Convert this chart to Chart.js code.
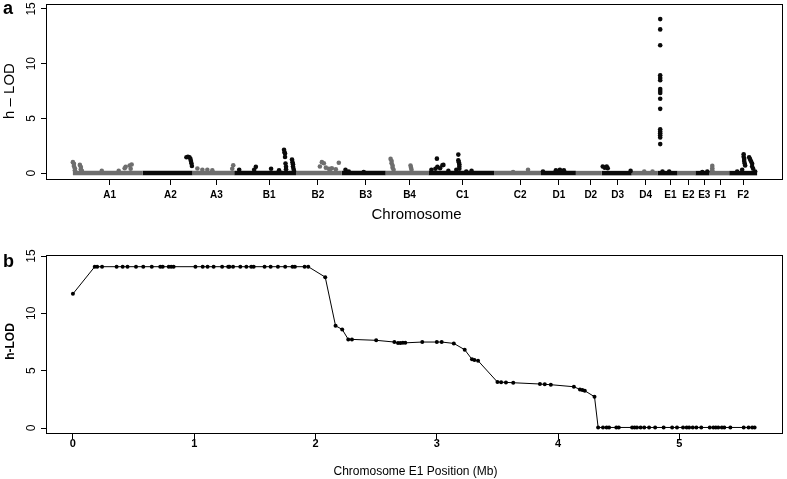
<!DOCTYPE html>
<html>
<head>
<meta charset="utf-8">
<script src="https://cdn.jsdelivr.net/npm/chart.js@4.4.1/dist/chart.umd.min.js"></script>
<style>
  html, body { margin: 0; padding: 0; background: #fff; }
  #wrap { position: relative; width: 787px; height: 479px; }
  .panel { position: absolute; left: 0; width: 787px; }
</style>
</head>
<body>
<div id="wrap">
  <div class="panel" style="top:0;height:230px"><canvas id="chart-a"></canvas></div>
  <div class="panel" style="top:230px;height:249px"><canvas id="chart-b"></canvas></div>
</div>
<script>
// ---- panel a: genome scan (cumulative map position, arbitrary units) ----
const chrNames = ['A1','A2','A3','B1','B2','B3','B4','C1','C2','D1','D2','D3','D4','E1','E2','E3','F1','F2'];
const chrStart = [27, 97, 147, 189, 251, 297, 341, 384, 450, 497, 532, 558, 588, 614, 634, 652, 666, 686];
const chrEnd   = [97, 147, 189, 251, 297, 341, 384, 450, 497, 532, 558, 588, 614, 634, 652, 666, 686, 714];
const chrMid   = [64, 125, 171, 224, 273, 321, 365, 418, 476, 515, 547, 574, 602, 627, 645, 661, 677, 700];

// markers above the baseline (h-LOD > 0)
const peakPos = [
  27, 28, 28, 29, 29, 34, 35, 35, 36, 56, 73, 79, 80, 84, 86, 85,
  141, 142.5, 144, 145, 145.5, 146, 146.5,
  152, 157, 162, 167, 188, 187,
  194, 210.7, 209, 226, 239, 239.5, 240, 240, 240.5, 241, 241, 247, 247.5, 248, 248, 248.5, 249, 234,
  275, 277, 279, 281, 284, 287, 291, 294, 285,
  300.7, 304, 319,
  346, 347, 347, 348, 348, 349, 366, 366.5, 367,
  387, 391, 392.5, 393, 395.7, 398, 399, 404, 412, 414, 414, 414.5, 415, 415, 415, 427.3, 422,
  484, 469,
  499, 512, 516, 520,
  559, 561, 563, 564, 587,
  600.7, 609,
  616.7, 616.7, 616.7, 616.7, 616.7, 616.7, 616.7, 616.7, 616.7, 616.7, 616.7, 616.7, 616.7, 616.7, 616.7, 616.7, 616.7, 619, 625.7,
  664, 659,
  669, 669, 669,
  694, 699, 700.5, 700.5, 701, 701, 701.5, 702, 706, 707, 708, 709, 709, 710, 712
];
const peakLod = [
  1.0, 0.85, 0.65, 0.45, 0.25, 0.75, 0.55, 0.35, 0.2, 0.2, 0.2, 0.45, 0.57, 0.7, 0.78, 0.4,
  1.45, 1.5, 1.45, 1.3, 1.1, 0.9, 0.65,
  0.42, 0.3, 0.3, 0.25, 0.72, 0.4,
  0.3, 0.57, 0.3, 0.4, 2.14, 1.9, 1.78, 1.47, 0.88, 0.57, 0.35, 1.24, 1.0, 0.8, 0.6, 0.4, 0.2, 0.25,
  0.6, 1.0, 0.9, 0.5, 0.4, 0.45, 0.35, 0.94, 0.3,
  0.3, 0.15, 0.1,
  1.3, 1.1, 0.9, 0.7, 0.5, 0.3, 0.7, 0.5, 0.3,
  0.3, 0.4, 1.32, 0.57, 0.45, 0.72, 0.75, 0.2, 0.3, 1.69, 1.17, 1.0, 0.8, 0.6, 0.4, 0.2, 0.15,
  0.3, 0.1,
  0.15, 0.25, 0.3, 0.25,
  0.6, 0.5, 0.6, 0.45, 0.2,
  0.15, 0.15,
  14.07, 13.13, 11.68, 8.94, 8.7, 8.49, 7.68, 7.5, 7.32, 6.8, 5.87, 4.0, 3.8, 3.64, 3.46, 3.25, 2.65, 0.15, 0.15,
  0.15, 0.1,
  0.66, 0.45, 0.25,
  0.15, 0.3, 1.72, 1.5, 1.3, 1.1, 0.9, 0.7, 1.45, 1.25, 1.05, 0.85, 0.6, 0.4, 0.15
];
const lodTicks = [0, 5, 10, 15];

// ---- panel b: chromosome E1 detail ----
const e1Pos = [
  0, 0.18, 0.20, 0.24, 0.36, 0.41, 0.45, 0.52, 0.58, 0.65, 0.72, 0.74, 0.79, 0.81, 0.83,
  1.01, 1.07, 1.11, 1.16, 1.23, 1.28, 1.29, 1.32, 1.38, 1.43, 1.47, 1.49, 1.58, 1.63, 1.69, 1.75, 1.81, 1.83, 1.91, 1.94,
  2.08, 2.165, 2.22, 2.27, 2.30, 2.50, 2.65, 2.68, 2.70, 2.72, 2.74, 2.88,
  3.00, 3.04, 3.14, 3.23, 3.29, 3.31, 3.34, 3.50, 3.53, 3.57, 3.63, 3.85, 3.89, 3.94,
  4.13, 4.18, 4.20, 4.22, 4.30,
  4.33, 4.37, 4.40, 4.42, 4.48, 4.50, 4.61, 4.63, 4.65, 4.68, 4.71, 4.75, 4.80, 4.87, 4.94, 4.98,
  5.03, 5.06, 5.08, 5.11, 5.14, 5.18, 5.25, 5.28, 5.30, 5.32, 5.35, 5.37, 5.42, 5.53, 5.57, 5.60, 5.62
];
const e1Lod = [
  11.7, 14.07, 14.07, 14.07, 14.07, 14.07, 14.07, 14.07, 14.07, 14.07, 14.07, 14.07, 14.07, 14.07, 14.07,
  14.07, 14.07, 14.07, 14.07, 14.07, 14.07, 14.07, 14.07, 14.07, 14.07, 14.07, 14.07, 14.07, 14.07, 14.07, 14.07, 14.07, 14.07, 14.07, 14.07,
  13.16, 8.92, 8.6, 7.73, 7.73, 7.65, 7.5, 7.41, 7.41, 7.43, 7.43, 7.5,
  7.5, 7.5, 7.38, 6.83, 5.99, 5.93, 5.87, 4.01, 4.0, 3.98, 3.95, 3.84, 3.81, 3.78,
  3.6, 3.37, 3.31, 3.25, 2.73,
  0.05, 0.05, 0.05, 0.05, 0.05, 0.05, 0.05, 0.05, 0.05, 0.05, 0.05, 0.05, 0.05, 0.05, 0.05, 0.05,
  0.05, 0.05, 0.05, 0.05, 0.05, 0.05, 0.05, 0.05, 0.05, 0.05, 0.05, 0.05, 0.05, 0.05, 0.05, 0.05, 0.05
];
const mbTicks = [0, 1, 2, 3, 4, 5];

const GRAY = '#6e6e6e';
const BLACK = '#0a0a0a';
const FONT = '"Liberation Sans", Arial, Helvetica, sans-serif';

function chrColor(i) { return i % 2 === 0 ? GRAY : BLACK; }
function chrIndexOf(pos) {
  for (let i = 0; i < chrStart.length; i++) if (pos >= chrStart[i] && pos < chrEnd[i]) return i;
  return chrStart.length - 1;
}

// box, rotated y labels and panel texts (R-style)
const framePlugin = {
  id: 'frame',
  afterDraw(chart, args, o) {
    const { ctx, chartArea: a } = chart;
    const ys = chart.scales.y;
    ctx.save();
    ctx.strokeStyle = '#000';
    ctx.lineWidth = 1;
    ctx.strokeRect(a.left + 0.5, a.top + 0.5, a.right - a.left - 1, a.bottom - a.top - 1);
    ctx.fillStyle = '#000';
    ctx.font = o.tickFont;
    ctx.textAlign = 'center';
    ctx.textBaseline = 'alphabetic';
    o.yTicks.forEach(v => {
      ctx.save();
      ctx.translate(o.tickX, ys.getPixelForValue(v));
      ctx.rotate(-Math.PI / 2);
      ctx.fillText(String(v), 0, 0);
      ctx.restore();
    });
    // y title
    ctx.save();
    ctx.font = o.yTitleFont;
    ctx.translate(o.yTitleX, o.yTitleY);
    ctx.rotate(-Math.PI / 2);
    ctx.fillText(o.yTitle, 0, 0);
    ctx.restore();
    // x title
    ctx.font = o.xTitleFont;
    ctx.fillText(o.xTitle, o.xTitleX, o.xTitleY);
    // panel letter
    ctx.font = 'bold 18px ' + FONT;
    ctx.textAlign = 'left';
    ctx.fillText(o.letter, o.letterX, o.letterY);
    ctx.restore();
  }
};

const baseline = chrNames.map((n, i) => ({
  label: n,
  data: [{ x: chrStart[i], y: 0 }, { x: chrEnd[i], y: 0 }],
  showLine: true,
  borderColor: chrColor(i),
  borderWidth: 4.5,
  borderCapStyle: 'butt',
  pointRadius: 0
}));

const peaks = peakPos.map((x, i) => ({ x, y: peakLod[i] }));

new Chart(document.getElementById('chart-a'), {
  type: 'scatter',
  data: {
    datasets: [{
      label: 'markers',
      data: peaks,
      pointRadius: 2.3,
      borderWidth: 0,
      pointBackgroundColor: peakPos.map(p => chrColor(chrIndexOf(p)))
    }, ...baseline]
  },
  options: {
    responsive: true,
    maintainAspectRatio: false,
    animation: false,
    events: [],
    layout: { padding: { top: 2, right: 1, left: 0, bottom: 0 } },
    plugins: {
      legend: { display: false },
      tooltip: { enabled: false },
      frame: {
        yTicks: lodTicks, tickX: 35, tickFont: '12px ' + FONT,
        yTitle: 'h \u2013 LOD', yTitleFont: '15px ' + FONT, yTitleX: 13.5, yTitleY: 91,
        xTitle: 'Chromosome', xTitleFont: '15px ' + FONT, xTitleX: 416.5, xTitleY: 218.5,
        letter: 'a', letterX: 3, letterY: 13.5
      }
    },
    scales: {
      x: {
        type: 'linear', min: 0, max: 740,
        afterBuildTicks: s => { s.ticks = chrMid.map(v => ({ value: v })); },
        afterFit: s => { s.height = 50; },
        ticks: {
          autoSkip: false, maxRotation: 0, padding: 4,
          color: '#000', font: { family: FONT, size: 10, weight: 'bold' },
          callback: (v, i) => chrNames[i]
        },
        grid: { drawOnChartArea: false, drawTicks: true, tickLength: 5, color: '#000' },
        border: { display: false }
      },
      y: {
        type: 'linear', min: -0.63, max: 15.45,
        afterBuildTicks: s => { s.ticks = lodTicks.map(v => ({ value: v })); },
        afterFit: s => { s.width = 46; },
        ticks: { display: false },
        grid: { drawOnChartArea: false, drawTicks: true, tickLength: 5, color: '#000' },
        border: { display: false }
      }
    }
  },
  plugins: [framePlugin]
});

new Chart(document.getElementById('chart-b'), {
  type: 'scatter',
  data: {
    datasets: [{
      label: 'E1',
      data: e1Pos.map((x, i) => ({ x, y: e1Lod[i] })),
      showLine: true,
      borderColor: '#000',
      borderWidth: 1,
      pointRadius: 2,
      pointBorderWidth: 0,
      pointBackgroundColor: '#000',
      tension: 0
    }]
  },
  options: {
    responsive: true,
    maintainAspectRatio: false,
    animation: false,
    events: [],
    layout: { padding: { top: 25, right: 1, left: 0, bottom: 0 } },
    plugins: {
      legend: { display: false },
      tooltip: { enabled: false },
      frame: {
        yTicks: lodTicks, tickX: 35, tickFont: '12px ' + FONT,
        yTitle: 'h-LOD', yTitleFont: 'bold 12px ' + FONT, yTitleX: 13.5, yTitleY: 111.5,
        xTitle: 'Chromosome E1 Position (Mb)', xTitleFont: '12px ' + FONT, xTitleX: 415.5, xTitleY: 244.5,
        letter: 'b', letterX: 3, letterY: 36.5
      }
    },
    scales: {
      x: {
        type: 'linear', min: -0.222, max: 5.854,
        afterBuildTicks: s => { s.ticks = mbTicks.map(v => ({ value: v })); },
        afterFit: s => { s.height = 45; },
        ticks: {
          autoSkip: false, maxRotation: 0, padding: -2,
          color: '#000', font: { family: FONT, size: 11, weight: 'bold' }
        },
        grid: { drawOnChartArea: false, drawTicks: true, tickLength: 5, color: '#000' },
        border: { display: false }
      },
      y: {
        type: 'linear', min: -0.52, max: 15.09,
        afterBuildTicks: s => { s.ticks = lodTicks.map(v => ({ value: v })); },
        afterFit: s => { s.width = 46; },
        ticks: { display: false },
        grid: { drawOnChartArea: false, drawTicks: true, tickLength: 5, color: '#000' },
        border: { display: false }
      }
    }
  },
  plugins: [framePlugin]
});
</script>
</body>
</html>
